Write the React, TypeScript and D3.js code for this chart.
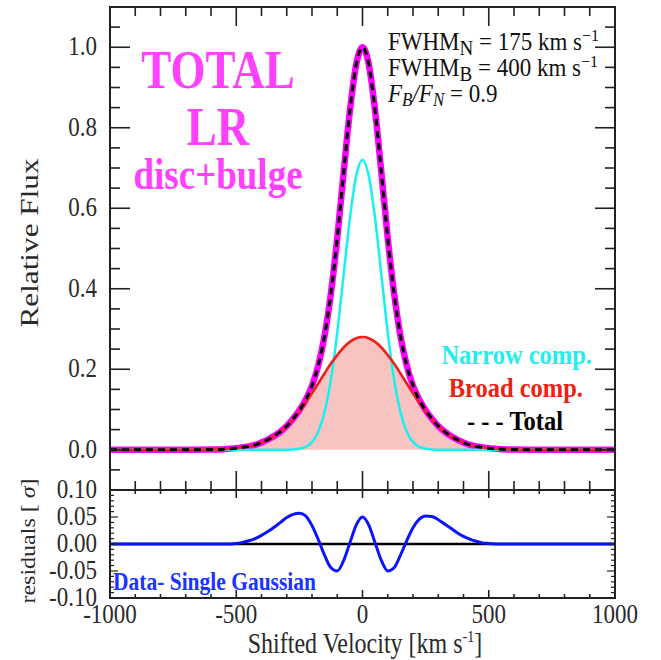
import React from "react";
import * as d3 from "d3";

// ---------------- DATA ----------------
const velocity = [
  -1000, -900, -800, -700, -600, -550,
  -500, -475, -450, -425, -400, -375, -350, -325, -300, -275, -250, -225, -200, -175, -150, -125, -100, -75, -50, -25,
  0,
  25, 50, 75, 100, 125, 150, 175, 200, 225, 250, 275, 300, 325, 350, 375, 400, 425, 450, 475, 500,
  550, 600, 700, 800, 900, 1000,
];

const narrowFlux = [
  0, 0, 0, 0, 0, 0,
  0, 0, 0, 0, 0, 0, 0, 0, 0.0002, 0.0008, 0.0025, 0.007, 0.019, 0.045, 0.094, 0.175, 0.291, 0.433, 0.574, 0.68,
  0.72,
  0.68, 0.574, 0.433, 0.291, 0.175, 0.094, 0.045, 0.019, 0.007, 0.0025, 0.0008, 0.0002, 0, 0, 0, 0, 0, 0, 0, 0,
  0, 0, 0, 0, 0, 0,
];

const broadFlux = [
  0, 0, 0, 0, 0.0005, 0.0015,
  0.004, 0.006, 0.008, 0.012, 0.018, 0.025, 0.034, 0.045, 0.059, 0.076, 0.095, 0.117, 0.14, 0.165, 0.19, 0.214, 0.235, 0.254, 0.268, 0.277,
  0.28,
  0.277, 0.268, 0.254, 0.235, 0.214, 0.19, 0.165, 0.14, 0.117, 0.095, 0.076, 0.059, 0.045, 0.034, 0.025, 0.018, 0.012, 0.008, 0.006, 0.004,
  0.0015, 0.0005, 0, 0, 0, 0,
];

const totalFlux = [
  0, 0, 0, 0, 0.0005, 0.0015,
  0.004, 0.006, 0.008, 0.012, 0.018, 0.025, 0.034, 0.045, 0.059, 0.077, 0.098, 0.124, 0.159, 0.21, 0.284, 0.389, 0.526, 0.687, 0.842, 0.957,
  1.0,
  0.957, 0.842, 0.687, 0.526, 0.389, 0.284, 0.21, 0.159, 0.124, 0.098, 0.077, 0.059, 0.045, 0.034, 0.025, 0.018, 0.012, 0.008, 0.006, 0.004,
  0.0015, 0.0005, 0, 0, 0, 0,
];

const residuals = [
  0, 0, 0, 0, 0, 0,
  0.001, 0.003, 0.006, 0.01, 0.016, 0.023, 0.031, 0.04, 0.049, 0.055, 0.057, 0.052, 0.034, 0.008, -0.021, -0.044, -0.05, -0.031, 0.002, 0.035,
  0.05,
  0.035, 0.002, -0.031, -0.05, -0.044, -0.021, 0.006, 0.03, 0.046, 0.052, 0.051, 0.045, 0.037, 0.029, 0.021, 0.014, 0.009, 0.005, 0.002, 0.001,
  0, 0, 0, 0, 0, 0,
];

const xTickLabels = [-1000, -500, 0, 500, 1000];
const fluxTickLabels = [0.0, 0.2, 0.4, 0.6, 0.8, 1.0];
const residTickLabels = [-0.1, -0.05, 0.0, 0.05, 0.1];

// ---------------- LAYOUT ----------------
const W = 661;
const H = 660;
const X0 = 110;
const X1 = 615;
const MAIN_TOP = 7;
const MAIN_BOT = 490;
const RES_TOP = 490;
const RES_BOT = 598;

const SERIF = "'Liberation Serif', 'Times New Roman', serif";
const TXT = "#2a2a2a";
const MAGENTA_TXT = "#ff40ff";
const SY = 1.2; // vertical stretch of the reference lettering

const tr = (x: number, y: number, s = SY) => `translate(${x},${y}) scale(1,${s})`;

export default function App() {
  const x = d3.scaleLinear().domain([-1000, 1000]).range([X0, X1]);
  const y = d3.scaleLinear().domain([-0.1, 1.1]).range([MAIN_BOT, MAIN_TOP]);
  const yr = d3.scaleLinear().domain([-0.1, 0.1]).range([RES_BOT, RES_TOP]);

  const pts = (vals: number[]) => velocity.map((v, i) => [v, vals[i]] as [number, number]);

  const line = d3
    .line<[number, number]>()
    .x((d) => x(d[0]))
    .y((d) => y(d[1]))
    .curve(d3.curveMonotoneX);
  const area = d3
    .area<[number, number]>()
    .x((d) => x(d[0]))
    .y0(y(0))
    .y1((d) => y(d[1]))
    .curve(d3.curveMonotoneX);
  const rline = d3
    .line<[number, number]>()
    .x((d) => x(d[0]))
    .y((d) => yr(d[1]))
    .curve(d3.curveMonotoneX);

  const xMinor = d3.range(-1000, 1001, 100);
  const yMinor = d3.range(-0.1, 1.1001, 0.05).map((v) => Math.round(v * 100) / 100);
  const rMinor = d3.range(-0.1, 0.1001, 0.01).map((v) => Math.round(v * 1000) / 1000);

  const isMajorX = (v: number) => v % 500 === 0;
  const isMajorY = (v: number) => Math.abs(Math.round(v * 100) % 20) === 0;
  const isMajorR = (v: number) => Math.abs(Math.round(v * 1000) % 50) === 0;

  const tickStroke = "#222";

  return (
    <svg width={W} height={H} style={{ display: "block", position: "absolute", left: 0, top: 0, background: "#fff" }}>
      <rect x={0} y={0} width={W} height={H} fill="#fff" />
      <defs>
        <clipPath id="mainClip">
          <rect x={X0} y={MAIN_TOP} width={X1 - X0} height={MAIN_BOT - MAIN_TOP} />
        </clipPath>
        <clipPath id="resClip">
          <rect x={X0} y={RES_TOP} width={X1 - X0} height={RES_BOT - RES_TOP} />
        </clipPath>
      </defs>

      {/* main panel curves */}
      <g clipPath="url(#mainClip)">
        <path d={area(pts(broadFlux)) || ""} fill="#f7c4c1" />
        <path d={line(pts(totalFlux)) || ""} fill="none" stroke="#ff00ff" strokeWidth={6.5} />
        <path d={line(pts(narrowFlux)) || ""} fill="none" stroke="#18f0f0" strokeWidth={2.5} />
        <path d={line(pts(broadFlux)) || ""} fill="none" stroke="#f0201c" strokeWidth={2.6} />
        <path d={line(pts(totalFlux)) || ""} fill="none" stroke="#000" strokeWidth={3} strokeDasharray="7,5" />
      </g>

      {/* residual panel */}
      <g clipPath="url(#resClip)">
        <line x1={x(-1000)} x2={x(1000)} y1={yr(0)} y2={yr(0)} stroke="#000" strokeWidth={2.5} />
        <path d={rline(pts(residuals)) || ""} fill="none" stroke="#0a14ff" strokeWidth={3} />
      </g>

      {/* ticks */}
      {xMinor.map((v) => {
        const L = isMajorX(v) ? 19 : 9;
        return (
          <g key={"xt" + v} stroke={tickStroke} strokeWidth={1.6}>
            <line x1={x(v)} x2={x(v)} y1={MAIN_TOP} y2={MAIN_TOP + L} />
            <line x1={x(v)} x2={x(v)} y1={MAIN_BOT} y2={MAIN_BOT - L} />
            <line x1={x(v)} x2={x(v)} y1={RES_TOP} y2={RES_TOP + (isMajorX(v) ? 8 : 4)} />
            <line x1={x(v)} x2={x(v)} y1={RES_BOT} y2={RES_BOT - (isMajorX(v) ? 8 : 4)} />
          </g>
        );
      })}
      {yMinor.map((v) => {
        const L = isMajorY(v) ? 20 : 10;
        return (
          <g key={"yt" + v} stroke={tickStroke} strokeWidth={1.6}>
            <line x1={X0} x2={X0 + L} y1={y(v)} y2={y(v)} />
            <line x1={X1} x2={X1 - L} y1={y(v)} y2={y(v)} />
          </g>
        );
      })}
      {rMinor.map((v) => {
        const L = isMajorR(v) ? 8 : 4;
        return (
          <g key={"rt" + v} stroke={tickStroke} strokeWidth={1.2}>
            <line x1={X0} x2={X0 + L} y1={yr(v)} y2={yr(v)} />
            <line x1={X1} x2={X1 - L} y1={yr(v)} y2={yr(v)} />
          </g>
        );
      })}

      {/* frames */}
      <rect x={X0} y={MAIN_TOP} width={X1 - X0} height={MAIN_BOT - MAIN_TOP} fill="none" stroke="#222" strokeWidth={2} />
      <rect x={X0} y={RES_TOP} width={X1 - X0} height={RES_BOT - RES_TOP} fill="none" stroke="#222" strokeWidth={2} />

      {/* tick labels */}
      <g fontFamily={SERIF} fontSize={23} fill={TXT}>
        {fluxTickLabels.map((v) => (
          <text key={"fl" + v} transform={tr(97, y(v) + 8)} textAnchor="end">
            {v.toFixed(1)}
          </text>
        ))}
        {residTickLabels.map((v) => (
          <text key={"rl" + v} transform={tr(97, yr(v) + 8)} textAnchor="end">
            {v.toFixed(2)}
          </text>
        ))}
        {xTickLabels.map((v) => (
          <text key={"xl" + v} transform={tr(x(v), 623)} textAnchor="middle">
            {String(v)}
          </text>
        ))}
      </g>

      {/* axis titles */}
      <text transform={tr(365, 653)} textAnchor="middle" fontFamily={SERIF} fontSize={24} fill={TXT}>
        Shifted Velocity [km s<tspan dy={-9} fontSize={14}>-1</tspan>
        <tspan dy={9}>]</tspan>
      </text>
      <text transform={`translate(38,243) scale(1,1.25) rotate(-90)`} textAnchor="middle" fontFamily={SERIF} fontSize={25} fill={TXT}>
        Relative Flux
      </text>
      <text transform={`translate(35,541) scale(1,1.2) rotate(-90)`} textAnchor="middle" fontFamily={SERIF} fontSize={20} fill={TXT}>
        residuals [ <tspan fontStyle="italic">σ</tspan>]
      </text>

      {/* big magenta labels */}
      <g fontFamily={SERIF} fontWeight="bold" fill={MAGENTA_TXT} textAnchor="middle">
        <text transform={tr(218, 88)} fontSize={45}>TOTAL</text>
        <text transform={tr(218, 145)} fontSize={45}>LR</text>
        <text transform={tr(218, 189)} fontSize={37}>disc+bulge</text>
      </g>

      {/* annotation */}
      <g fontFamily={SERIF} fontSize={23} fill="#111">
        <text transform={tr(388, 50, 1.05)}>
          FWHM<tspan dy={5} fontSize={19}>N</tspan>
          <tspan dy={-5}> = 175 km s</tspan>
          <tspan dy={-9} fontSize={16}>−1</tspan>
        </text>
        <text transform={tr(388, 76, 1.05)}>
          FWHM<tspan dy={5} fontSize={19}>B</tspan>
          <tspan dy={-5}> = 400 km s</tspan>
          <tspan dy={-9} fontSize={16}>−1</tspan>
        </text>
        <text transform={tr(388, 102, 1.05)}>
          <tspan fontStyle="italic">F</tspan>
          <tspan dy={4} fontSize={17} fontStyle="italic">B</tspan>
          <tspan dy={-4} fontStyle="italic">/F</tspan>
          <tspan dy={4} fontSize={17} fontStyle="italic">N</tspan>
          <tspan dy={-4}> = 0.9</tspan>
        </text>
      </g>

      {/* legend */}
      <g fontFamily={SERIF} fontWeight="bold" fontSize={24.5} textAnchor="end">
        <text transform={tr(592, 364, 1.1)} fill="#22eeee">Narrow comp.</text>
        <text transform={tr(583, 397, 1.1)} fill="#ee2211">Broad comp.</text>
        <text transform={tr(563, 430, 1.1)} fill="#000">- - - Total</text>
      </g>

      <text transform={tr(113, 590, 1.15)} fontFamily={SERIF} fontWeight="bold" fontSize={21.5} fill="#1a33ff">
        Data- Single Gaussian
      </text>
    </svg>
  );
}
